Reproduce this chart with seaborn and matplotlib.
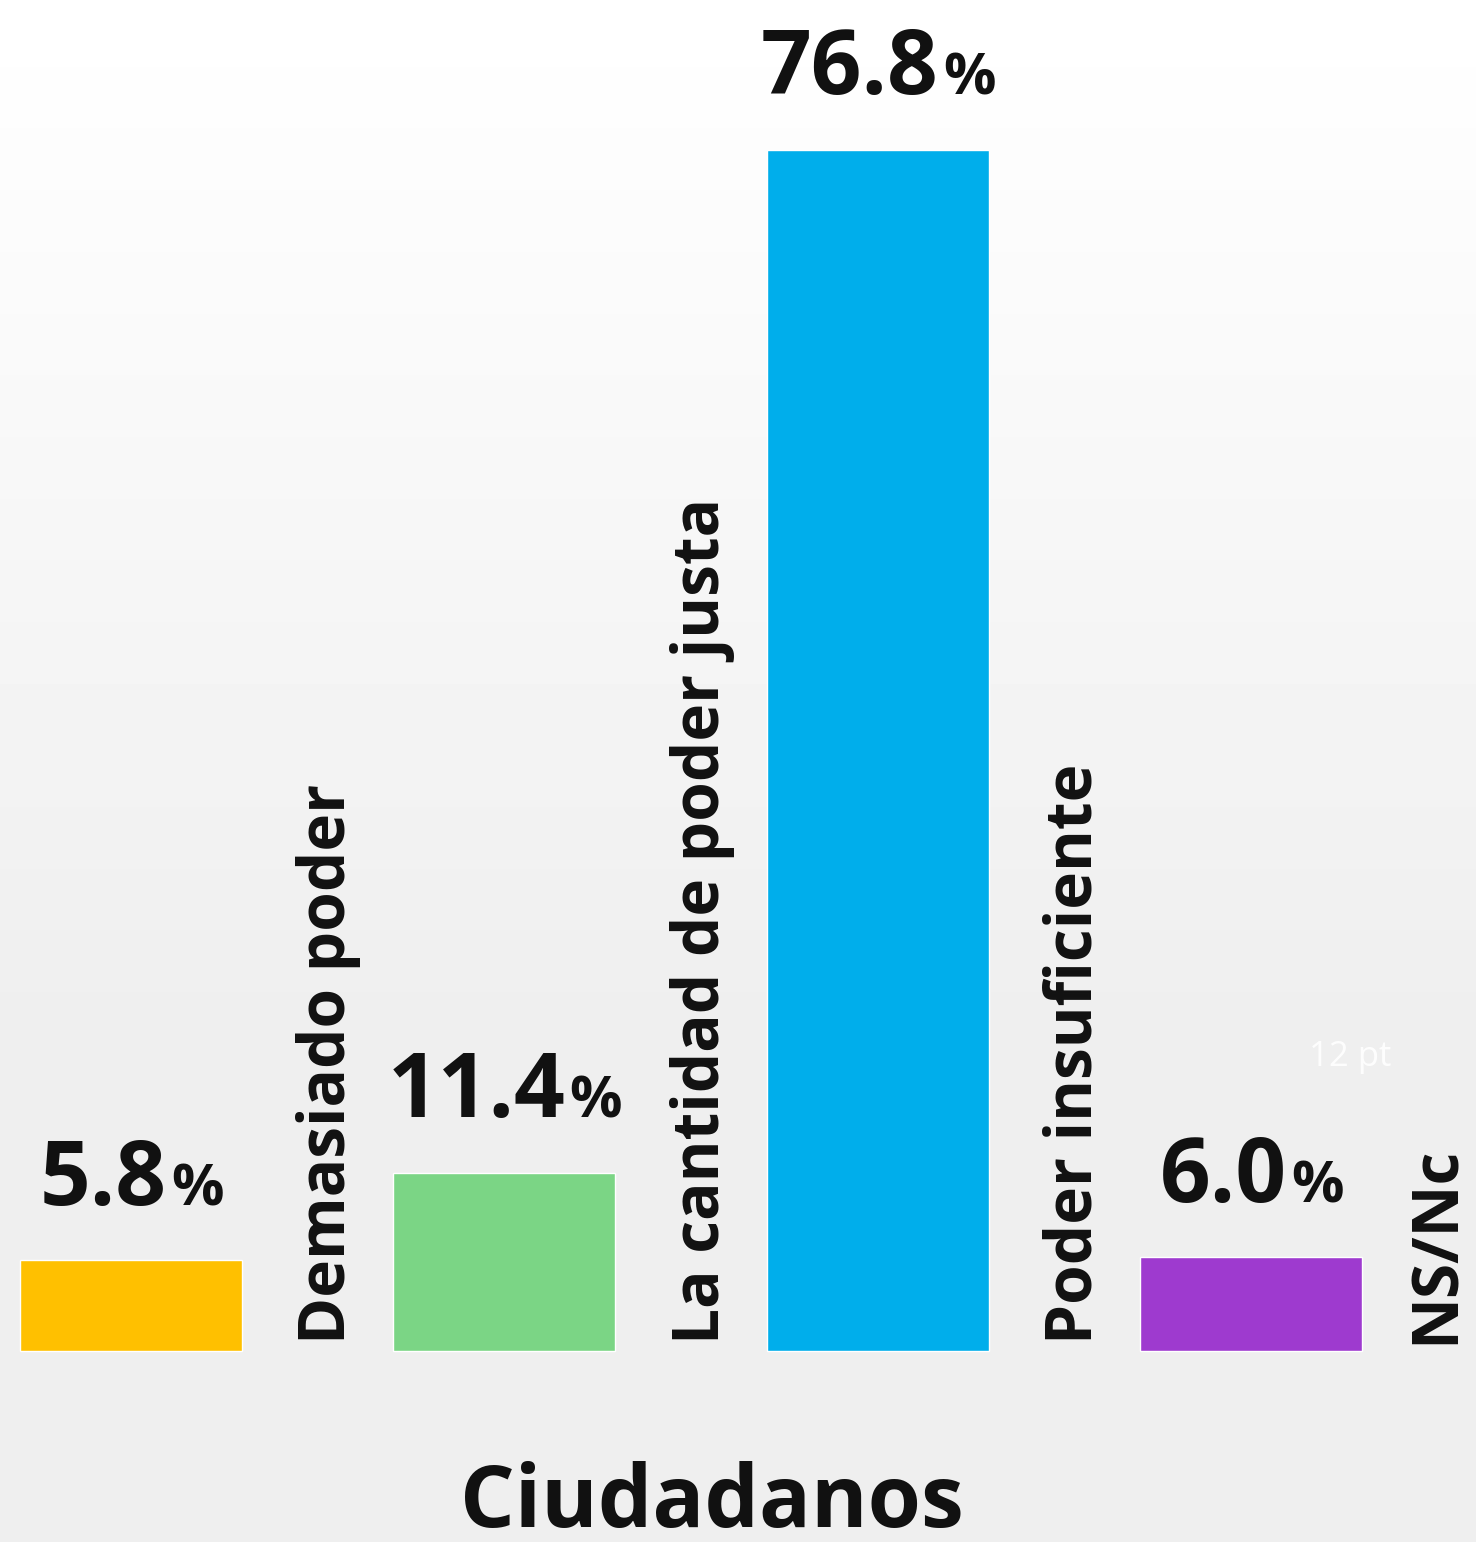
import numpy as np
import pandas as pd
import matplotlib
matplotlib.use('Agg')
import matplotlib.pyplot as plt
import seaborn as sns

categories = ['Demasiado poder', 'La cantidad de poder justa', 'Poder insuficiente', 'NS/Nc']
values = [5.8, 11.4, 76.8, 6.0]
value_labels = ['5.8', '11.4', '76.8', '6.0']
colors = ['#FFC000', '#7BD585', '#00AEEB', '#9E3ACF']
title = 'Ciudadanos'

sns.set_theme(style='white')
plt.rcParams['font.family'] = ['Open Sans', 'DejaVu Sans']

df = pd.DataFrame({'cat': categories, 'val': values})

fig = plt.figure(figsize=(14.76, 15.42), dpi=100)
ax = fig.add_axes([0, 0, 1, 1])

xlim = (-0.351, 3.603)
ylim = (-12.21, 86.38)

# soft grey gradient background (white top -> light grey bottom)
rows = np.linspace(0, 1, 300)
shade = np.clip(1.0 - 0.063 * rows / 0.65, 0.937, 1.0)
grad = np.repeat(shade[:, None], 2, axis=1)
ax.imshow(grad, cmap='gray', vmin=0, vmax=1, aspect='auto',
          extent=(xlim[0], xlim[1], ylim[0], ylim[1]), origin='upper', zorder=0)

sns.barplot(data=df, x='cat', y='val', hue='cat', palette=colors, legend=False,
            width=0.595, saturation=1, ax=ax, zorder=2)

ax.set_xlim(*xlim)
ax.set_ylim(*ylim)
ax.axis('off')

num_size, pct_size = 64, 42
for i, (v, lab) in enumerate(zip(values, value_labels)):
    t = ax.annotate(lab, xy=(i, v), xytext=(-20, 40), textcoords='offset points',
                    ha='center', va='baseline', fontsize=num_size, fontweight='bold', color='#111111')
    # put the smaller % on the same baseline as the number
    ax.annotate('%', xy=(1, 0), xycoords=t, xytext=(3, 0.24 * (num_size - pct_size)),
                textcoords='offset points', ha='left', va='bottom',
                fontsize=pct_size, fontweight='bold', color='#111111')
    lx = i + 0.53 if i < 3 else i + 0.50
    ax.text(lx, 0.45, categories[i], rotation=90, ha='center', va='bottom',
            fontsize=46, fontweight='bold', color='#111111')

ax.text(3.267, 18.8, '12 pt', ha='center', va='center', fontsize=25, color='white', alpha=0.9)
fig.text(0.482, 0.01, title, ha='center', va='baseline', fontsize=62, fontweight='bold', color='#111111')

fig.savefig('out.png', dpi=100)
